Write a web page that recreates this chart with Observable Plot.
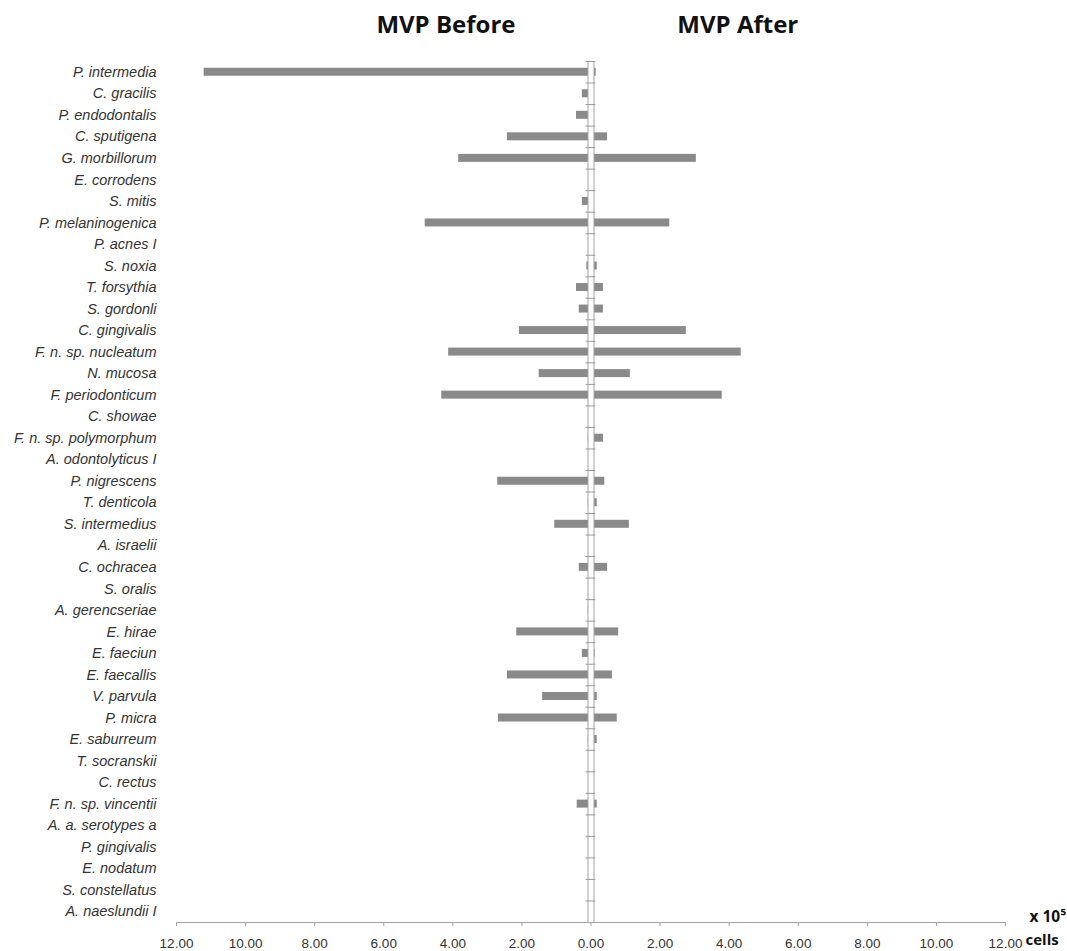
<!DOCTYPE html>
<html>
<head>
<meta charset="utf-8">
<script src="https://cdn.jsdelivr.net/npm/d3@7"></script>
<script src="https://cdn.jsdelivr.net/npm/@observablehq/plot@0.6"></script>
<style>
  html, body { margin: 0; padding: 0; background: #fff; }
  #chart svg { display: block; }
</style>
</head>
<body>
<div id="chart"></div>
<script>
// ---- data (units: x 10^5 cells) ----
const species = [
  "P. intermedia", "C. gracilis", "P. endodontalis", "C. sputigena", "G. morbillorum",
  "E. corrodens", "S. mitis", "P. melaninogenica", "P. acnes I", "S. noxia",
  "T. forsythia", "S. gordonli", "C. gingivalis", "F. n. sp. nucleatum", "N. mucosa",
  "F. periodonticum", "C. showae", "F. n. sp. polymorphum", "A. odontolyticus I", "P. nigrescens",
  "T. denticola", "S. intermedius", "A. israelii", "C. ochracea", "S. oralis",
  "A. gerencseriae", "E. hirae", "E. faeciun", "E. faecallis", "V. parvula",
  "P. micra", "E. saburreum", "T. socranskii", "C. rectus", "F. n. sp. vincentii",
  "A. a. serotypes a", "P. gingivalis", "E. nodatum", "S. constellatus", "A. naeslundii I"
];
const mvpBefore = [
  11.2, 0.25, 0.42, 2.42, 3.83,
  0, 0.25, 4.8, 0, 0.12,
  0.42, 0.34, 2.07, 4.12, 1.5,
  4.32, 0.05, 0.08, 0, 2.7,
  0.08, 1.05, 0, 0.34, 0,
  0.08, 2.15, 0.25, 2.42, 1.4,
  2.68, 0.08, 0, 0, 0.4,
  0, 0, 0, 0, 0
];
const mvpAfter = [
  0.15, 0, 0, 0.48, 3.05,
  0, 0, 2.28, 0, 0.18,
  0.36, 0.36, 2.76, 4.35, 1.14,
  3.8, 0, 0.36, 0, 0.4,
  0.18, 1.11, 0, 0.48, 0,
  0, 0.8, 0.12, 0.62, 0.18,
  0.76, 0.18, 0, 0, 0.18,
  0, 0, 0, 0, 0
];
const xTicks = [-12, -10, -8, -6, -4, -2, 0, 2, 4, 6, 8, 10, 12];
const panelTitles = ["MVP Before", "MVP After"];
const unitLabels = ["x 10\u2075", "cells"];

// ---- layout ----
const W = 1067, H = 951;
const mL = 176, mR = 62, mT = 61, mB = 29;
const step = (H - mT - mB) / species.length;
const barInset = (step - 8) / 2;
const titleX = [-4.2, 4.25];
const barColor = "#8a8a8a";
const lineColor = "#a3a3a3";

const rows = species.map((name, i) => ({name, before: mvpBefore[i], after: mvpAfter[i]}));
const titleRows = panelTitles.map((t, i) => ({t, x: titleX[i]}));

const sans = "'Liberation Sans', Arial, sans-serif";
const bold = "'Open Sans', 'Liberation Sans', sans-serif";

const chart = Plot.plot({
  width: W,
  height: H,
  marginLeft: mL,
  marginRight: mR,
  marginTop: mT,
  marginBottom: mB,
  style: {fontFamily: sans, background: "#fff", overflow: "visible"},
  x: {domain: [-12, 12], label: null},
  y: {domain: species, padding: 0, round: false, label: null},
  marks: [
    Plot.barX(rows, {y: "name", x1: 0, x2: d => -d.before, fill: barColor, insetTop: barInset, insetBottom: barInset}),
    Plot.barX(rows, {y: "name", x1: 0, x2: d => d.after, fill: barColor, insetTop: barInset, insetBottom: barInset}),
    Plot.ruleX([0], {stroke: lineColor, strokeWidth: 7}),
    Plot.ruleX([0], {stroke: "#fff", strokeWidth: 5}),
    Plot.ruleY(species, {y: d => d, x1: -0.14, x2: 0.14, dy: -step / 2, stroke: "#999"}),
    Plot.ruleY([species[species.length - 1]], {y: d => d, x1: -12, x2: 12, dy: step / 2, stroke: lineColor, strokeWidth: 1.2}),
    Plot.axisX({
      anchor: "bottom",
      ticks: xTicks,
      tickFormat: d => Math.abs(d).toFixed(2),
      tickSize: 4,
      tickPadding: 12,
      fontSize: 13.5,
      stroke: lineColor,
      fill: "#333",
      label: null
    }),
    Plot.axisY({
      anchor: "left",
      tickSize: 0,
      tickPadding: 20,
      fontSize: 14.5,
      fontStyle: "italic",
      fill: "#333",
      label: null
    }),
    Plot.text(titleRows, {
      x: "x", text: "t", frameAnchor: "top", lineAnchor: "middle", dy: -36,
      fontSize: 24, fontWeight: "bold", fontFamily: bold, fill: "#111"
    }),
    Plot.text([unitLabels[0]], {
      text: d => d, frameAnchor: "bottom-right", lineAnchor: "middle", textAnchor: "start", dx: 24, dy: -5,
      fontSize: 15.5, fontWeight: "bold", fontFamily: bold, fill: "#111"
    }),
    Plot.text([unitLabels[1]], {
      text: d => d, frameAnchor: "bottom-right", lineAnchor: "middle", textAnchor: "start", dx: 20, dy: 18,
      fontSize: 15, fontWeight: "bold", fontFamily: bold, fill: "#111"
    })
  ]
});

document.getElementById("chart").appendChild(chart);
</script>
</body>
</html>
